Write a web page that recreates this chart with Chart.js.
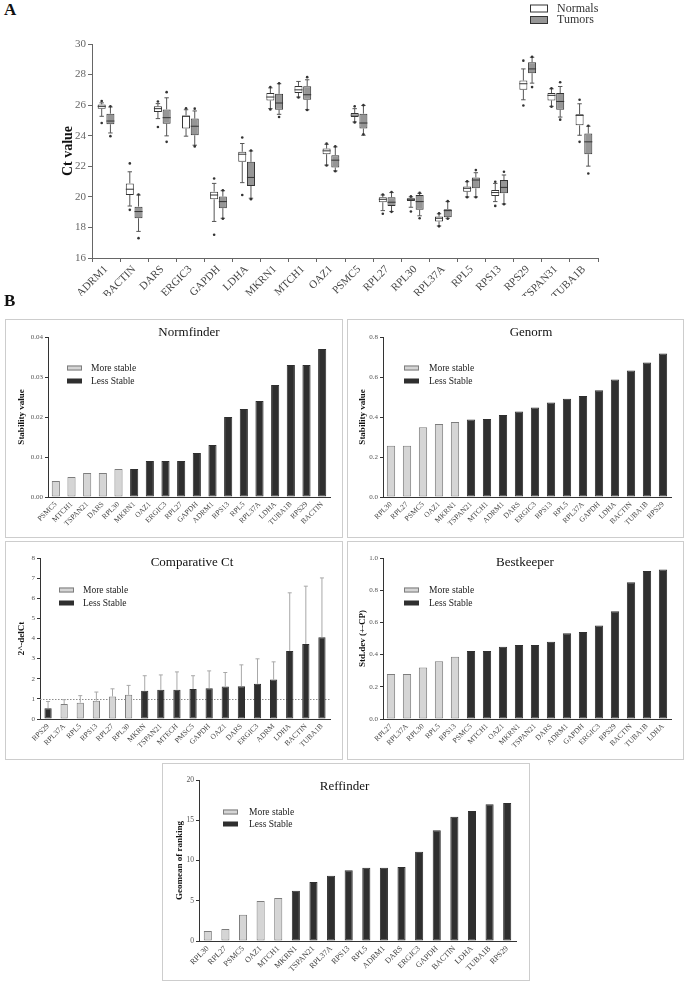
<!DOCTYPE html>
<html>
<head>
<meta charset="utf-8">
<title>Reference gene stability</title>
<script src="https://cdn.jsdelivr.net/npm/chart.js@4.4.1/dist/chart.umd.min.js"></script>
<style>
  html, body { margin: 0; padding: 0; background: #fff; }
  #page { position: relative; width: 686px; height: 983px; overflow: hidden;
          font-family: 'Liberation Serif', 'Times New Roman', serif; }
  .tag { position: absolute; font-weight: bold; font-size: 17px; line-height: 1; color: #111; }
  .panel { position: absolute; border: 1px solid #cdcdcd; box-sizing: border-box; }
  canvas { position: absolute; left: 0; top: 0; }
</style>
</head>
<body>
<div id="page">
  <div class="tag" style="left:4px; top:1px;">A</div>
  <canvas id="boxA" width="686" height="296"></canvas>
  <div class="tag" style="left:4px; top:292px;">B</div>
  <div class="panel" style="left:5px; top:319px; width:338px; height:219px;"><canvas id="normfinder" width="336" height="217"></canvas></div>
  <div class="panel" style="left:347px; top:319px; width:337px; height:219px;"><canvas id="genorm" width="335" height="217"></canvas></div>
  <div class="panel" style="left:5px; top:541px; width:338px; height:219px;"><canvas id="compct" width="336" height="217"></canvas></div>
  <div class="panel" style="left:347px; top:541px; width:337px; height:219px;"><canvas id="bestkeeper" width="335" height="217"></canvas></div>
  <div class="panel" style="left:162px; top:763px; width:368px; height:218px;"><canvas id="reffinder" width="366" height="216"></canvas></div>
</div>

<script>
// ---------- panel A : Ct values (box plots) ----------
const genesA = ['ADRM1', 'BACTIN', 'DARS', 'ERGIC3', 'GAPDH', 'LDHA', 'MKRN1', 'MTCH1', 'OAZ1',
                'PSMC5', 'RPL27', 'RPL30', 'RPL37A', 'RPL5', 'RPS13', 'RPS29', 'TSPAN31', 'TUBA1B'];
const seriesA = ['Normals', 'Tumors'];

const normLo  = [25.27, 19.40, 25.12, 23.97, 18.39, 20.93, 25.77, 26.53, 22.08, 24.90, 19.10, 19.32, 18.10, 20.00, 19.69, 26.35, 25.92, 24.03];
const normQ1  = [25.77, 20.12, 25.55, 24.47, 19.84, 22.29, 26.31, 26.79, 22.79, 25.22, 19.65, 19.73, 18.39, 20.34, 20.06, 27.00, 26.31, 24.68];
const normMed = [25.92, 20.50, 25.77, 25.27, 20.12, 22.79, 26.53, 27.00, 23.01, 25.35, 19.84, 19.84, 18.60, 20.56, 20.28, 27.40, 26.64, 25.33];
const normQ3  = [26.05, 20.88, 25.92, 25.33, 20.34, 22.95, 26.79, 27.26, 23.16, 25.48, 19.97, 19.91, 18.71, 20.67, 20.45, 27.61, 26.79, 25.40];
const normHi  = [26.15, 21.64, 26.10, 25.70, 20.88, 23.49, 27.13, 27.55, 23.44, 25.77, 20.12, 20.00, 18.89, 20.99, 20.88, 28.37, 27.07, 26.09];
const normOut = [[26.27, 24.83], [22.19, 19.15], [26.24, 24.57], [25.80], [21.20, 17.52], [23.88, 20.12],
                 [27.18, 25.72], [26.50], [23.48, 22.05], [25.92, 24.87], [20.15, 18.89], [20.03, 19.04],
                 [18.92, 18.07], [21.02, 19.97], [20.99, 19.41], [28.91, 25.98], [27.10, 25.90], [26.35, 23.60]];

const tumLo  = [24.18, 17.74, 23.99, 23.38, 18.60, 19.91, 25.40, 25.70, 21.70, 24.03, 19.04, 18.76, 18.60, 20.00, 19.54, 27.44, 25.22, 22.01];
const tumQ1  = [24.75, 18.60, 24.79, 24.03, 19.26, 20.71, 25.70, 26.35, 21.92, 24.47, 19.41, 19.15, 18.67, 20.56, 20.23, 28.09, 25.70, 22.79];
const tumMed = [24.96, 19.04, 25.18, 24.62, 19.69, 21.27, 26.14, 26.68, 22.40, 24.83, 19.65, 19.69, 19.10, 21.10, 20.62, 28.37, 26.24, 23.60];
const tumQ3  = [25.44, 19.36, 25.72, 25.12, 20.02, 22.29, 26.74, 27.24, 22.73, 25.44, 19.97, 20.12, 19.19, 21.27, 21.10, 28.81, 26.79, 24.14];
const tumHi  = [25.88, 20.12, 26.48, 25.62, 20.40, 23.00, 27.40, 27.66, 23.27, 25.98, 20.28, 20.23, 19.69, 21.58, 21.43, 29.13, 27.22, 24.62];
const tumOut = [[25.92, 23.97], [20.15, 17.30], [26.85, 23.60], [25.77, 23.30], [20.43, 18.57], [23.03, 19.85],
                [27.43, 25.22], [27.83, 25.68], [23.30, 21.68], [26.00, 24.10], [20.32, 19.02], [20.26, 18.60],
                [19.72, 18.57], [21.75, 19.97], [21.64, 19.52], [29.16, 27.18], [27.50, 25.05], [24.65, 21.53]];

// ---------- panel B : stability rankings ----------
const legendLabels = ['More stable', 'Less Stable'];

const normfinderGenes = ['PSMC5', 'MTCH1', 'TSPAN21', 'DARS', 'RPL30', 'MKRN1', 'OAZ1', 'ERGIC3', 'RPL27',
                         'GAPDH', 'ADRM1', 'RPS13', 'RPL5', 'RPL37A', 'LDHA', 'TUBA1B', 'RPS29', 'BACTIN'];
const normfinderVals = [0.004, 0.005, 0.006, 0.006, 0.007, 0.007, 0.009, 0.009, 0.009,
                        0.011, 0.013, 0.020, 0.022, 0.024, 0.028, 0.033, 0.033, 0.037];
const normfinderStable = ['PSMC5', 'MTCH1', 'TSPAN21', 'DARS', 'RPL30'];

const genormGenes = ['RPL30', 'RPL27', 'PSMC5', 'OAZ1', 'MKRN1', 'TSPAN21', 'MTCH1', 'ADRM1', 'DARS',
                     'ERGIC3', 'RPS13', 'RPL5', 'RPL37A', 'GAPDH', 'LDHA', 'BACTIN', 'TUBA1B', 'RPS29'];
const genormVals = [0.256, 0.256, 0.349, 0.365, 0.375, 0.387, 0.390, 0.410, 0.427,
                    0.448, 0.473, 0.491, 0.505, 0.534, 0.588, 0.632, 0.672, 0.717];
const genormStable = ['RPL30', 'RPL27', 'PSMC5', 'OAZ1', 'MKRN1'];

const compCtGenes = ['RPS29', 'RPL37A', 'RPL5', 'RPS13', 'RPL27', 'RPL30', 'MKRN', 'TSPAN21', 'MTECH',
                     'PMSC5', 'GAPDH', 'OAZ1', 'DARS', 'ERGIC3', 'ADRM', 'LDHA', 'BACTIN', 'TUBA1B'];
const compCtVals = [0.54, 0.74, 0.81, 0.91, 1.12, 1.20, 1.40, 1.45, 1.45,
                    1.49, 1.53, 1.62, 1.63, 1.75, 1.96, 3.38, 3.73, 4.06];
const compCtErrTop = [0.87, 0.96, 1.16, 1.34, 1.50, 1.67, 2.15, 2.19, 2.34,
                      2.15, 2.39, 2.31, 2.69, 2.99, 2.84, 6.27, 6.60, 7.01];
const compCtStable = ['RPL37A', 'RPL5', 'RPS13', 'RPL27', 'RPL30'];
const compCtRef = 1;

const bestkeeperGenes = ['RPL27', 'RPL37A', 'RPL30', 'RPL5', 'RPS13', 'PSMC5', 'MTCH1', 'OAZ1', 'MKRN1',
                         'TSPAN21', 'DARS', 'ADRM1', 'GAPDH', 'ERGIC3', 'RPS29', 'BACTIN', 'TUBA1B', 'LDHA'];
const bestkeeperVals = [0.28, 0.28, 0.32, 0.358, 0.387, 0.422, 0.422, 0.449, 0.46,
                        0.46, 0.48, 0.532, 0.54, 0.58, 0.669, 0.849, 0.919, 0.928];
const bestkeeperStable = ['RPL27', 'RPL37A', 'RPL30', 'RPL5', 'RPS13'];

const reffinderGenes = ['RPL30', 'RPL27', 'PSMC5', 'OAZ1', 'MTCH1', 'MKRN1', 'TSPAN21', 'RPL37A', 'RPS13',
                        'RPL5', 'ADRM1', 'DARS', 'ERGIC3', 'GAPDH', 'BACTIN', 'LDHA', 'TUBA1B', 'RPS29'];
const reffinderVals = [1.24, 1.49, 3.27, 4.97, 5.34, 6.25, 7.33, 8.12, 8.78,
                       9.11, 9.11, 9.19, 11.1, 13.75, 15.45, 16.15, 16.98, 17.14];
const reffinderStable = ['RPL30', 'RPL27', 'PSMC5', 'OAZ1', 'MTCH1'];

// ---------- styles ----------
const SERIF = "'Liberation Serif', 'Times New Roman', serif";
Chart.defaults.font.family = SERIF;
Chart.defaults.color = '#555';
const LIGHT = '#d5d5d5', LIGHT_EDGE = '#7d7d7d', DARK = '#2f2f2f';

// whiskers, medians and outlier dots on top of the floating-bar boxes
const boxDeco = {
    id: 'boxDeco',
    afterDatasetsDraw(chart) {
        const ctx = chart.ctx;
        const y = chart.scales.y;
        chart.data.datasets.forEach((ds, di) => {
            chart.getDatasetMeta(di).data.forEach((bar, i) => {
                const x = bar.x, hw = bar.width / 2, cap = hw * 0.55;
                const pHi = y.getPixelForValue(ds.hi[i]), pLo = y.getPixelForValue(ds.lo[i]);
                const pQ1 = y.getPixelForValue(ds.data[i][0]), pQ3 = y.getPixelForValue(ds.data[i][1]);
                const pMed = y.getPixelForValue(ds.med[i]);
                ctx.save();
                ctx.lineWidth = 1;
                ctx.strokeStyle = '#555';
                ctx.beginPath();
                ctx.moveTo(x, pQ3); ctx.lineTo(x, pHi);
                ctx.moveTo(x - cap, pHi); ctx.lineTo(x + cap, pHi);
                ctx.moveTo(x, pQ1); ctx.lineTo(x, pLo);
                ctx.moveTo(x - cap, pLo); ctx.lineTo(x + cap, pLo);
                ctx.stroke();
                ctx.strokeStyle = '#333';
                ctx.beginPath();
                ctx.moveTo(x - hw, pMed); ctx.lineTo(x + hw, pMed);
                ctx.stroke();
                ctx.fillStyle = '#333';
                ds.out[i].forEach(v => {
                    ctx.beginPath();
                    ctx.arc(x, y.getPixelForValue(v), 1.3, 0, Math.PI * 2);
                    ctx.fill();
                });
                ctx.restore();
            });
        });
    }
};

// legend placed at fixed canvas coordinates (panel A)
const cornerLegend = {
    id: 'cornerLegend',
    afterDraw(chart, args, o) {
        const ctx = chart.ctx;
        ctx.save();
        chart.data.datasets.forEach((ds, k) => {
            const yy = o.rows[k];
            ctx.fillStyle = ds.backgroundColor;
            ctx.fillRect(o.x + 0.5, yy - 3.5, 17, 7);
            ctx.strokeStyle = '#333';
            ctx.lineWidth = 1;
            ctx.strokeRect(o.x + 0.5, yy - 3.5, 17, 7);
            ctx.fillStyle = '#333';
            ctx.font = '12px ' + SERIF;
            ctx.textBaseline = 'middle';
            ctx.fillText(ds.label, o.x + 27, yy);
        });
        ctx.restore();
    }
};

// in-plot title, legend, reference line and error bars for the ranking panels
const panelDeco = {
    id: 'panelDeco',
    beforeDatasetsDraw(chart, args, o) {
        if (o.refLine == null) return;
        const { ctx, chartArea: a } = chart;
        const py = Math.round(chart.scales.y.getPixelForValue(o.refLine)) + 0.5;
        ctx.save();
        ctx.strokeStyle = '#8c8c8c';
        ctx.setLineDash([1.5, 1.5]);
        ctx.beginPath();
        ctx.moveTo(a.left, py);
        ctx.lineTo(a.right, py);
        ctx.stroke();
        ctx.restore();
    },
    afterDatasetsDraw(chart, args, o) {
        const { ctx, chartArea: a } = chart;
        const y = chart.scales.y;
        ctx.save();
        if (o.errTop) {
            ctx.strokeStyle = '#a8a8a8';
            ctx.lineWidth = 1;
            chart.getDatasetMeta(0).data.forEach((bar, i) => {
                const top = y.getPixelForValue(o.errTop[i]);
                ctx.beginPath();
                ctx.moveTo(bar.x, bar.y);
                ctx.lineTo(bar.x, top);
                ctx.moveTo(bar.x - 2, top);
                ctx.lineTo(bar.x + 2, top);
                ctx.stroke();
            });
        }
        // title
        ctx.fillStyle = '#111';
        ctx.font = '13px ' + SERIF;
        ctx.textAlign = 'center';
        ctx.textBaseline = 'middle';
        ctx.fillText(o.title, (a.left + a.right) / 2 + o.titleDx, a.top + o.titleDy);
        // legend
        ctx.textAlign = 'left';
        ctx.font = '9.5px ' + SERIF;
        legendLabels.forEach((txt, k) => {
            const yy = a.top + o.rows[k];
            const bx = a.left + o.boxDx;
            ctx.fillStyle = k === 0 ? LIGHT : DARK;
            ctx.fillRect(bx, yy - 2.5, 15, 5);
            if (k === 0) {
                ctx.strokeStyle = LIGHT_EDGE;
                ctx.strokeRect(bx + 0.5, yy - 2, 14, 4);
            }
            ctx.fillStyle = '#222';
            ctx.fillText(txt, a.left + o.textDx, yy);
        });
        ctx.restore();
    }
};

// ---------- panel A chart ----------
new Chart(document.getElementById('boxA'), {
    type: 'bar',
    data: {
        labels: genesA,
        datasets: [
            { label: seriesA[0], data: normQ1.map((q, i) => [q, normQ3[i]]),
              backgroundColor: '#ffffff', borderColor: '#333', borderWidth: 1, borderSkipped: false,
              lo: normLo, med: normMed, hi: normHi, out: normOut },
            { label: seriesA[1], data: tumQ1.map((q, i) => [q, tumQ3[i]]),
              backgroundColor: '#969696', borderColor: '#333', borderWidth: 1, borderSkipped: false,
              lo: tumLo, med: tumMed, hi: tumHi, out: tumOut }
        ]
    },
    options: {
        responsive: false,
        animation: false,
        events: [],
        layout: { padding: { left: 0, top: 44, right: 88, bottom: 0 } },
        datasets: { bar: { categoryPercentage: 0.62, barPercentage: 0.92 } },
        plugins: {
            legend: { display: false },
            tooltip: { enabled: false },
            cornerLegend: { x: 530, rows: [8.5, 20] }
        },
        scales: {
            x: {
                border: { color: '#666' },
                grid: { drawOnChartArea: false, tickLength: 4, color: '#666' },
                ticks: { autoSkip: false, minRotation: 45, maxRotation: 45, padding: 1,
                         color: '#444', font: { size: 11 } },
                afterFit: s => { s.height = 38; }
            },
            y: {
                min: 16, max: 30,
                border: { color: '#666' },
                grid: { drawOnChartArea: false, tickLength: 4, color: '#666' },
                ticks: { stepSize: 2, padding: 2, color: '#666', font: { size: 11 } },
                title: { display: true, text: 'Ct value', color: '#111',
                         font: { size: 14, weight: 'bold' }, padding: { top: 60 } },
                afterFit: s => { s.width = 92; }
            }
        }
    },
    plugins: [boxDeco, cornerLegend]
});

// ---------- panel B charts ----------
function barPanel(id, genes, values, stable, cfg) {
    const light = genes.map(g => stable.includes(g));
    return new Chart(document.getElementById(id), {
        type: 'bar',
        data: {
            labels: genes,
            datasets: [{
                data: values,
                backgroundColor: light.map(l => l ? LIGHT : DARK),
                borderColor: light.map(l => l ? LIGHT_EDGE : DARK),
                borderWidth: 1,
                borderSkipped: false,
                barPercentage: cfg.barPct,
                categoryPercentage: 1
            }]
        },
        options: {
            responsive: false,
            animation: false,
            events: [],
            layout: { padding: { left: 0, top: cfg.top, right: cfg.right, bottom: 0 } },
            plugins: {
                legend: { display: false },
                tooltip: { enabled: false },
                panelDeco: cfg.deco
            },
            scales: {
                x: {
                    border: { color: '#333' },
                    grid: { display: false, drawTicks: false },
                    ticks: { autoSkip: false, minRotation: 45, maxRotation: 45, padding: 3,
                             color: '#444', font: { size: cfg.xFont } },
                    afterFit: s => { s.height = cfg.xh; }
                },
                y: {
                    min: 0, max: cfg.yMax,
                    border: { color: '#333' },
                    grid: { drawOnChartArea: false, tickLength: 3, color: '#333' },
                    ticks: { stepSize: cfg.step, padding: 2, color: '#555', font: { size: cfg.yFont },
                             callback: v => v.toFixed(cfg.dec) },
                    title: { display: true, text: cfg.yTitle, color: '#111',
                             font: { size: 9, weight: 'bold' }, padding: { top: cfg.titlePad } },
                    afterFit: s => { s.width = cfg.left; }
                }
            }
        },
        plugins: [panelDeco]
    });
}

barPanel('normfinder', normfinderGenes, normfinderVals, normfinderStable, {
    yMax: 0.04, step: 0.01, dec: 2, yTitle: 'Stability value', titlePad: 10,
    left: 42, right: 12, top: 17, xh: 40, barPct: 0.52, xFont: 7.5, yFont: 7,
    deco: { title: 'Normfinder', titleDx: 0, titleDy: -4, boxDx: 19, textDx: 43, rows: [31, 44] }
});

barPanel('genorm', genormGenes, genormVals, genormStable, {
    yMax: 0.8, step: 0.2, dec: 1, yTitle: 'Stability value', titlePad: 9,
    left: 35, right: 12, top: 17, xh: 40, barPct: 0.52, xFont: 7.5, yFont: 7,
    deco: { title: 'Genorm', titleDx: 4, titleDy: -4, boxDx: 21, textDx: 46, rows: [31, 44] }
});

barPanel('compct', compCtGenes, compCtVals, compCtStable, {
    yMax: 8, step: 1, dec: 0, yTitle: '2^-delCt', titlePad: 10,
    left: 34, right: 12, top: 16, xh: 40, barPct: 0.45, xFont: 7.5, yFont: 7,
    deco: { title: 'Comparative Ct', titleDx: 7, titleDy: 5, boxDx: 19, textDx: 43, rows: [32, 45],
            errTop: compCtErrTop, refLine: compCtRef }
});

barPanel('bestkeeper', bestkeeperGenes, bestkeeperVals, bestkeeperStable, {
    yMax: 1.0, step: 0.2, dec: 1, yTitle: 'Std.dev (+-CP)', titlePad: 9,
    left: 35, right: 12, top: 16, xh: 40, barPct: 0.52, xFont: 7.5, yFont: 7,
    deco: { title: 'Bestkeeper', titleDx: -2, titleDy: 5, boxDx: 21, textDx: 46, rows: [32, 45] }
});

barPanel('reffinder', reffinderGenes, reffinderVals, reffinderStable, {
    yMax: 20, step: 5, dec: 0, yTitle: 'Geomean of ranking', titlePad: 11,
    left: 36, right: 13, top: 16, xh: 39, barPct: 0.46, xFont: 8, yFont: 7.5,
    deco: { title: 'Reffinder', titleDx: -13, titleDy: 7, boxDx: 24, textDx: 50, rows: [32, 44] }
});
</script>
</body>
</html>
